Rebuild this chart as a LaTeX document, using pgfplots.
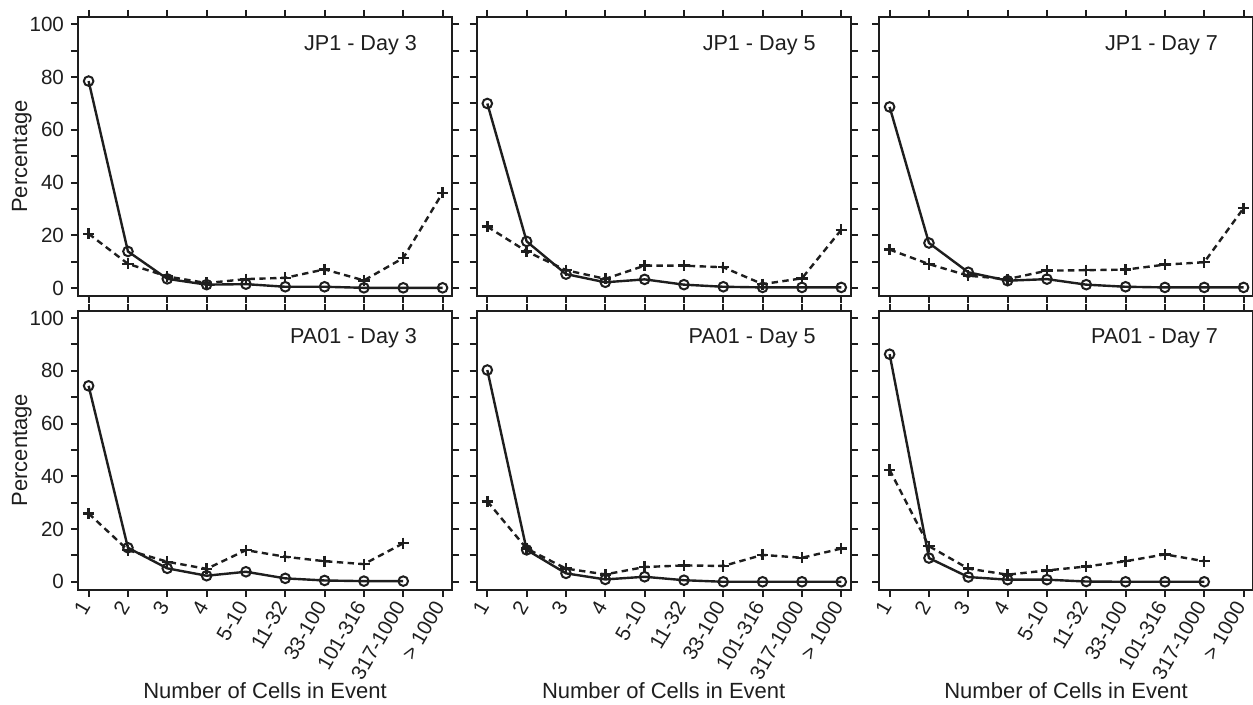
\documentclass[border=0pt]{standalone}
\usepackage{fontspec}
\setmainfont{Liberation Sans}
\usepackage{pgfplots}
\pgfplotsset{compat=1.18}

\definecolor{ink}{HTML}{1E1E1E}

\pgfplotsset{
  panel/.style={
    scale only axis, width=187pt, height=139.5pt,
    xmin=0.73, xmax=10.24, ymin=-3, ymax=102.8,
    xtick={1,...,10}, ytick={0,10,...,100},
    xticklabels={}, yticklabels={},
    tick align=outside, tick pos=both, major tick length=3.5pt,
    axis line style={line width=1.1pt, draw=ink},
    every tick/.style={line width=1pt, draw=ink},
    tick label style={font=\fontsize{10.3}{11}\selectfont, text=ink},
    /pgf/number format/assume math mode=true,
    label style={font=\fontsize{11}{12}\selectfont, text=ink},
    clip=false,
  },
  leftcol/.style={
    yticklabels={0,,20,,40,,60,,80,,100},
    ylabel={Percentage},
    ylabel style={at={(axis description cs:-0.15,0.5)}, anchor=center},
  },
  bottomrow/.style={
    xticklabels={1,2,3,4,5-10,11-32,33-100,101-316,317-1000,> 1000},
    xticklabel style={rotate=60, anchor=east},
    xlabel={Number of Cells in Event},
    xlabel style={at={(axis description cs:0.5,-0.36)}, anchor=center},
  },
  circ/.style={ink, solid, line width=1.2pt, mark=o, mark size=2.4pt,
    mark options={solid, line width=1pt}},
  cross/.style={ink, line width=1.2pt, dash pattern=on 3.2pt off 2.2pt, mark=+,
    mark size=2.8pt, mark options={solid, line width=1.2pt}},
}

\newcommand{\paneltitle}[1]{\node[anchor=east, font=\fontsize{10.8}{12}\selectfont, text=ink]
  at (rel axis cs:0.925,0.9) {#1};}

\begin{document}
\begin{tikzpicture}
\path[use as bounding box] (0,0) rectangle (626.5pt,-352.5pt);

% top row: JP1
\begin{axis}[panel, leftcol, at={(39pt,-8.5pt)}, anchor=north west]
\addplot[circ] coordinates {(1,78.5) (2,13.9) (3,3.5) (4,1.3) (5,1.5) (6,0.5) (7,0.5) (8,0.1) (9,0.1) (10,0.1)};
\addplot[cross] coordinates {(1,20.6) (2,9.2) (3,4.4) (4,1.9) (5,3.4) (6,3.9) (7,7.1) (8,2.9) (9,11.4) (10,36.1)};
\paneltitle{JP1 - Day 3}
\end{axis}

\begin{axis}[panel, at={(238.35pt,-8.5pt)}, anchor=north west]
\addplot[circ] coordinates {(1,70.0) (2,17.7) (3,5.3) (4,2.2) (5,3.3) (6,1.3) (7,0.5) (8,0.25) (9,0.25) (10,0.25)};
\addplot[cross] coordinates {(1,23.3) (2,13.9) (3,6.8) (4,3.5) (5,8.5) (6,8.5) (7,7.9) (8,1.5) (9,3.7) (10,22.1)};
\paneltitle{JP1 - Day 5}
\end{axis}

\begin{axis}[panel, at={(439.5pt,-8.5pt)}, anchor=north west]
\addplot[circ] coordinates {(1,68.7) (2,17.1) (3,6.0) (4,2.8) (5,3.4) (6,1.3) (7,0.5) (8,0.25) (9,0.25) (10,0.25)};
\addplot[cross] coordinates {(1,14.6) (2,9.1) (3,4.7) (4,3.4) (5,6.6) (6,6.8) (7,7.0) (8,8.9) (9,9.8) (10,30.3)};
\paneltitle{JP1 - Day 7}
\end{axis}

% bottom row: PA01
\begin{axis}[panel, leftcol, bottomrow, at={(39pt,-155.35pt)}, anchor=north west]
\addplot[circ] coordinates {(1,74.3) (2,12.9) (3,5.1) (4,2.3) (5,3.8) (6,1.3) (7,0.5) (8,0.25) (9,0.25)};
\addplot[cross] coordinates {(1,25.9) (2,12.0) (3,7.6) (4,4.9) (5,12.0) (6,9.5) (7,7.8) (8,6.7) (9,14.6)};
\paneltitle{PA01 - Day 3}
\end{axis}

\begin{axis}[panel, bottomrow, at={(238.35pt,-155.35pt)}, anchor=north west]
\addplot[circ] coordinates {(1,80.3) (2,12.1) (3,3.2) (4,0.9) (5,1.9) (6,0.6) (7,0) (8,0) (9,0) (10,0)};
\addplot[cross] coordinates {(1,30.5) (2,12.6) (3,5.0) (4,2.8) (5,5.6) (6,6.2) (7,6.0) (8,10.2) (9,9.1) (10,12.6)};
\paneltitle{PA01 - Day 5}
\end{axis}

\begin{axis}[panel, bottomrow, at={(439.5pt,-155.35pt)}, anchor=north west]
\addplot[circ] coordinates {(1,86.3) (2,9.0) (3,1.8) (4,0.8) (5,0.8) (6,0.1) (7,0) (8,0) (9,0)};
\addplot[cross] coordinates {(1,42.4) (2,13.5) (3,5.0) (4,2.7) (5,4.3) (6,5.8) (7,7.8) (8,10.4) (9,7.8)};
\paneltitle{PA01 - Day 7}
\end{axis}
\end{tikzpicture}
\end{document}
